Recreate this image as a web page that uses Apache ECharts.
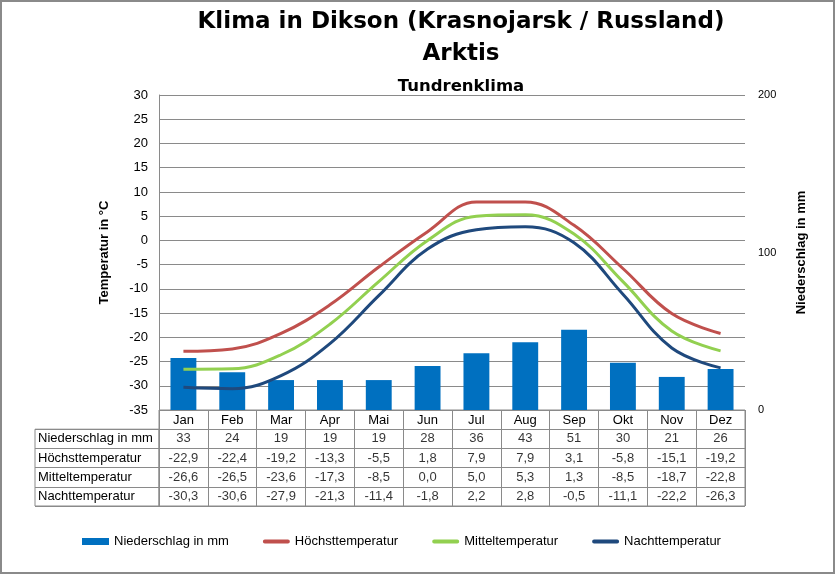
<!DOCTYPE html>
<html><head><meta charset="utf-8">
<script src="https://cdn.jsdelivr.net/npm/echarts@6/dist/echarts.min.js"></script>
<style>html,body{margin:0;padding:0;background:#fff}#c{width:836px;height:575px}</style>
</head><body><div id="c"></div>
<script>
const months = ['Jan','Feb','Mar','Apr','Mai','Jun','Jul','Aug','Sep','Okt','Nov','Dez'];
const precip = [33,24,19,19,19,28,36,43,51,30,21,26];
const tMax = [-22.9,-22.4,-19.2,-13.3,-5.5,1.8,7.9,7.9,3.1,-5.8,-15.1,-19.2];
const tMean = [-26.6,-26.5,-23.6,-17.3,-8.5,0.0,5.0,5.3,1.3,-8.5,-18.7,-22.8];
const tMin = [-30.3,-30.6,-27.9,-21.3,-11.4,-1.8,2.2,2.8,-0.5,-11.1,-22.2,-26.3];
const rowNames = ['Niederschlag in mm','Höchsttemperatur','Mitteltemperatur','Nachttemperatur'];
const tempTicks = {min:-35, max:30, interval:5};
const precTicks = {min:0, max:200, interval:100};

const fmt = v => v.toFixed(1).replace('.', ',');
const tableRows = [months, precip.map(String), tMax.map(fmt), tMean.map(fmt), tMin.map(fmt)];
const tableData = [];
for (let r = 1; r < tableRows.length; r++) for (let i = 0; i < months.length; i++) tableData.push([i, r]);

const FONT = 'Arial, "Liberation Sans", sans-serif';
const TFONT = '"DejaVu Sans", Arial, sans-serif';
const GRID = '#8a8a8a';
const LINE_ICON = 'path://M2,0 H26 A2,2 0 0 1 26,4 H2 A2,2 0 0 1 2,0 Z';
const chart = echarts.init(document.getElementById('c'));
chart.setOption({
  animation: false,
  textStyle: {fontFamily: FONT},
  title: [
    {text: 'Klima in Dikson (Krasnojarsk / Russland)', left: 456, top: 6, textAlign: 'center',
     textStyle: {fontSize: 23, fontWeight: 'bold', color: '#000', fontFamily: TFONT}},
    {text: 'Arktis', left: 456, top: 38, textAlign: 'center',
     textStyle: {fontSize: 23, fontWeight: 'bold', color: '#000', fontFamily: TFONT}},
    {text: 'Tundrenklima', left: 456, top: 73, textAlign: 'center',
     textStyle: {fontSize: 16.5, fontWeight: 'bold', color: '#000', fontFamily: TFONT}}
  ],
  graphic: [{type: 'rect', shape: {x: 1, y: 1, width: 833, height: 572},
    style: {fill: 'none', stroke: '#8a8a8a', lineWidth: 2}, silent: true}],
  legend: {
    left: 77, top: 530, itemWidth: 27, itemHeight: 7, itemGap: 34,
    textStyle: {fontSize: 13, color: '#000', fontFamily: FONT},
    data: [{name: 'Niederschlag in mm', icon: 'rect'},
           {name: 'Höchsttemperatur', icon: LINE_ICON},
           {name: 'Mitteltemperatur', icon: LINE_ICON},
           {name: 'Nachttemperatur', icon: LINE_ICON}]
  },
  grid: [
    {left: 159, right: 91, top: 95, height: 315},
    {left: 159, right: 91, top: 410, height: 96, show: true, borderColor: GRID, borderWidth: 1},
    {left: 35, width: 124, top: 429.2, height: 76.8, show: true, borderColor: GRID, borderWidth: 1}
  ],
  xAxis: [
    {type: 'category', data: months, gridIndex: 0, boundaryGap: true,
     axisLine: {show: false}, axisTick: {show: false},
     axisLabel: {margin: 4, fontSize: 13, color: '#000'}},
    {type: 'category', data: months, gridIndex: 1, boundaryGap: true,
     axisLine: {show: false}, axisTick: {show: false}, axisLabel: {show: false},
     splitLine: {show: true, interval: 0, lineStyle: {color: GRID}}},
    {type: 'value', gridIndex: 2, min: 0, max: 1, show: false}
  ],
  yAxis: [
    {type: 'value', gridIndex: 0, min: tempTicks.min, max: tempTicks.max, interval: tempTicks.interval,
     name: 'Temperatur in °C', nameLocation: 'middle', nameGap: 48, nameRotate: 90,
     nameTextStyle: {fontSize: 13, fontWeight: 'bold', color: '#000'},
     axisLine: {show: true, lineStyle: {color: GRID}}, axisTick: {show: false},
     axisLabel: {margin: 11, fontSize: 13, color: '#000'},
     splitLine: {lineStyle: {color: GRID}}},
    {type: 'value', gridIndex: 0, position: 'right', min: precTicks.min, max: precTicks.max, interval: precTicks.interval,
     name: 'Niederschlag in mm', nameLocation: 'middle', nameGap: 50, nameRotate: 90,
     nameTextStyle: {fontSize: 13, fontWeight: 'bold', color: '#000'},
     axisLine: {show: false}, axisTick: {show: false},
     axisLabel: {margin: 13, fontSize: 11, color: '#000'}, splitLine: {show: false}},
    {type: 'category', gridIndex: 1, data: [0,1,2,3,4], inverse: true,
     axisLine: {show: false}, axisTick: {show: false}, axisLabel: {show: false},
     splitLine: {show: true, interval: 0, lineStyle: {color: GRID}}},
    {type: 'category', gridIndex: 2, data: rowNames, inverse: true,
     axisLine: {show: false}, axisTick: {show: false},
     axisLabel: {inside: true, margin: 3, fontSize: 13, color: '#000'},
     splitLine: {show: true, interval: 0, lineStyle: {color: GRID}}}
  ],
  series: [
    {name: 'Niederschlag in mm', type: 'bar', xAxisIndex: 0, yAxisIndex: 1, data: precip,
     barWidth: '53%', itemStyle: {color: '#0070C0'}, z: 1},
    {name: 'Höchsttemperatur', type: 'line', xAxisIndex: 0, yAxisIndex: 0, data: tMax,
     smooth: 0.4, symbol: 'none', lineStyle: {width: 3, color: '#C0504D'}, itemStyle: {color: '#C0504D'}, z: 3},
    {name: 'Mitteltemperatur', type: 'line', xAxisIndex: 0, yAxisIndex: 0, data: tMean,
     smooth: 0.4, symbol: 'none', lineStyle: {width: 3, color: '#92D050'}, itemStyle: {color: '#92D050'}, z: 3},
    {name: 'Nachttemperatur', type: 'line', xAxisIndex: 0, yAxisIndex: 0, data: tMin,
     smooth: 0.4, symbol: 'none', lineStyle: {width: 3, color: '#1F497D'}, itemStyle: {color: '#1F497D'}, z: 3},
    {name: 'table', type: 'scatter', xAxisIndex: 1, yAxisIndex: 2, data: tableData,
     symbol: 'rect', symbolSize: 1, itemStyle: {color: 'rgba(0,0,0,0)'}, silent: true,
     label: {show: true, position: 'inside', fontSize: 13, color: '#000', fontFamily: FONT,
       formatter: p => tableRows[p.value[1]][p.value[0]]}}
  ]
});
</script></body></html>
